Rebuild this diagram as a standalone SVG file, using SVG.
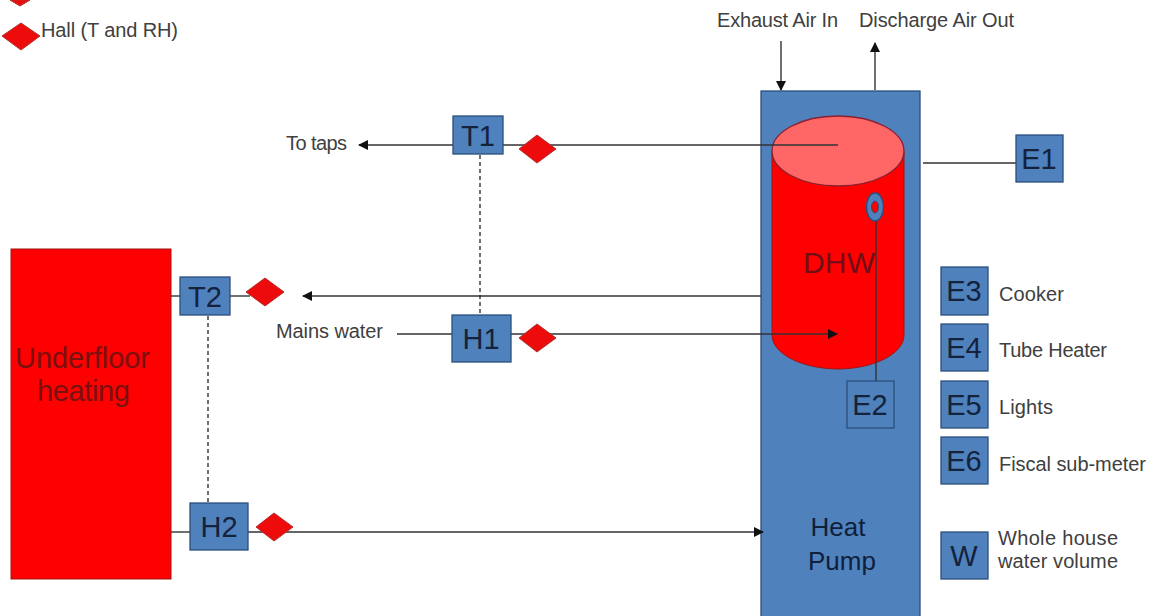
<svg xmlns="http://www.w3.org/2000/svg" width="1155" height="616" viewBox="0 0 1155 616">
<defs>
<marker id="a" viewBox="0 0 10 10" refX="9" refY="5" markerWidth="11" markerHeight="10" markerUnits="userSpaceOnUse" orient="auto"><path d="M0 0L10 5L0 10z" fill="#111"/></marker>
<style>
.b{fill:#4f81bd;stroke:#2c4f7c;stroke-width:1.3}
.d{fill:#ee0b0b;stroke:#b03030;stroke-width:1}
.r{fill:#f00;stroke:#a01515;stroke-width:1}
.l{stroke:#333;stroke-width:1.4;fill:none}
.dash{stroke:#222;stroke-width:1.3;stroke-dasharray:4 3;fill:none}
text{font-family:"Liberation Sans",Arial,sans-serif;fill:#404040;font-size:20px}
.k{fill:#14223c;font-size:29px;text-anchor:middle}
.u{fill:#7a1010;font-size:29px}
.w{fill:#10203a;font-size:26px;text-anchor:middle}
</style>
</defs>
<rect width="1155" height="616" fill="#fff"/>
<g id="heatpump"><rect class="b" x="761" y="91" width="159" height="530"/><text class="w" x="838" y="536">Heat</text><text class="w" x="842" y="570">Pump</text></g>
<g id="dhw">
<path class="r" d="M772 151V335C772 355 805 369 838 369C871 369 904 355 904 335V151z"/>
<ellipse cx="838" cy="151" rx="66" ry="35" fill="#ff6666" stroke="#8a2030" stroke-width="1.3"/>
<ellipse cx="875" cy="207" rx="8.500" ry="14" fill="#4f81bd" stroke="#2c4f7c" stroke-width="1.500"/>
<ellipse cx="875" cy="207" rx="3.500" ry="6" fill="#f00" stroke="#2c4f7c"/>
<text x="803" y="273" textLength="72" style="font-size:30px;fill:#700f18">DHW</text>
</g>
<g id="underfloor"><rect class="r" x="11" y="249" width="160" height="330"/><text class="u" x="15" y="368" textLength="135">Underfloor</text><text class="u" x="37" y="401" textLength="93">heating</text></g>
<g id="connectors">
<path class="l" d="M503 145H838"/>
<path class="l" d="M453 145H359" marker-end="url(#a)"/>
<path class="l" d="M761 296H303" marker-end="url(#a)"/>
<path class="l" d="M230 296H250"/>
<path class="l" d="M171 296H180"/>
<path class="l" d="M397 334H452"/>
<path class="l" d="M511 334H837" marker-end="url(#a)"/>
<path class="l" d="M171 532H190"/>
<path class="l" d="M248 532H763" marker-end="url(#a)"/>
<path class="l" d="M781 41V90" marker-end="url(#a)"/>
<path class="l" d="M875 90V43" marker-end="url(#a)"/>
<path class="l" d="M923 163H1016"/>
<path class="l" d="M876 221V381"/>
<path class="dash" d="M480 155V315"/>
<path class="dash" d="M208 316V503"/>
</g>
<g id="legend">
<path class="d" d="M10 0H30L20 6z"/>
<path class="d" d="M2 36L21 23L40 36L21 50z"/>
<text x="41" y="37" textLength="137">Hall (T and RH)</text>
</g>
<g id="T1"><rect class="b" x="453" y="116" width="50" height="38"/><text class="k" x="478" y="146">T1</text></g>
<g id="T2"><rect class="b" x="180" y="277" width="50" height="38"/><text class="k" x="205" y="307">T2</text></g>
<g id="H1"><rect class="b" x="452" y="315" width="59" height="47"/><text class="k" x="481" y="349">H1</text></g>
<g id="H2"><rect class="b" x="190" y="503" width="58" height="47"/><text class="k" x="219" y="537">H2</text></g>
<g id="E1"><rect class="b" x="1016" y="135" width="47" height="47"/><text class="k" x="1039" y="169">E1</text></g>
<g id="E2"><rect class="b" x="847" y="381" width="47" height="47"/><text class="k" x="870" y="415">E2</text></g>
<g id="E3"><rect class="b" x="941" y="267" width="47" height="48"/><text class="k" x="964" y="301">E3</text><text x="999" y="301" textLength="65">Cooker</text></g>
<g id="E4"><rect class="b" x="941" y="324" width="47" height="47"/><text class="k" x="964" y="358">E4</text><text x="999" y="357" textLength="108">Tube Heater</text></g>
<g id="E5"><rect class="b" x="941" y="381" width="47" height="47"/><text class="k" x="964" y="415">E5</text><text x="999" y="414" textLength="54">Lights</text></g>
<g id="E6"><rect class="b" x="941" y="437" width="47" height="47"/><text class="k" x="964" y="471">E6</text><text x="999" y="471" textLength="147">Fiscal sub-meter</text></g>
<g id="W"><rect class="b" x="941" y="532" width="47" height="47"/><text class="k" x="964" y="566">W</text><text x="998" y="545" textLength="120">Whole house</text><text x="998" y="568" textLength="120">water volume</text></g>
<g id="sensors">
<path class="d" d="M519 149L537 135L556 149L537 163z"/>
<path class="d" d="M246 292L265 278L284 292L265 306z"/>
<path class="d" d="M519 338L537 324L556 338L537 352z"/>
<path class="d" d="M256 527L274 513L293 527L274 541z"/>
</g>
<g id="labels">
<text x="286" y="150" textLength="61">To taps</text>
<text x="276" y="338" textLength="107">Mains water</text>
<text x="717" y="27" textLength="121">Exhaust Air In</text>
<text x="859" y="27" textLength="155">Discharge Air Out</text>
</g>
</svg>
